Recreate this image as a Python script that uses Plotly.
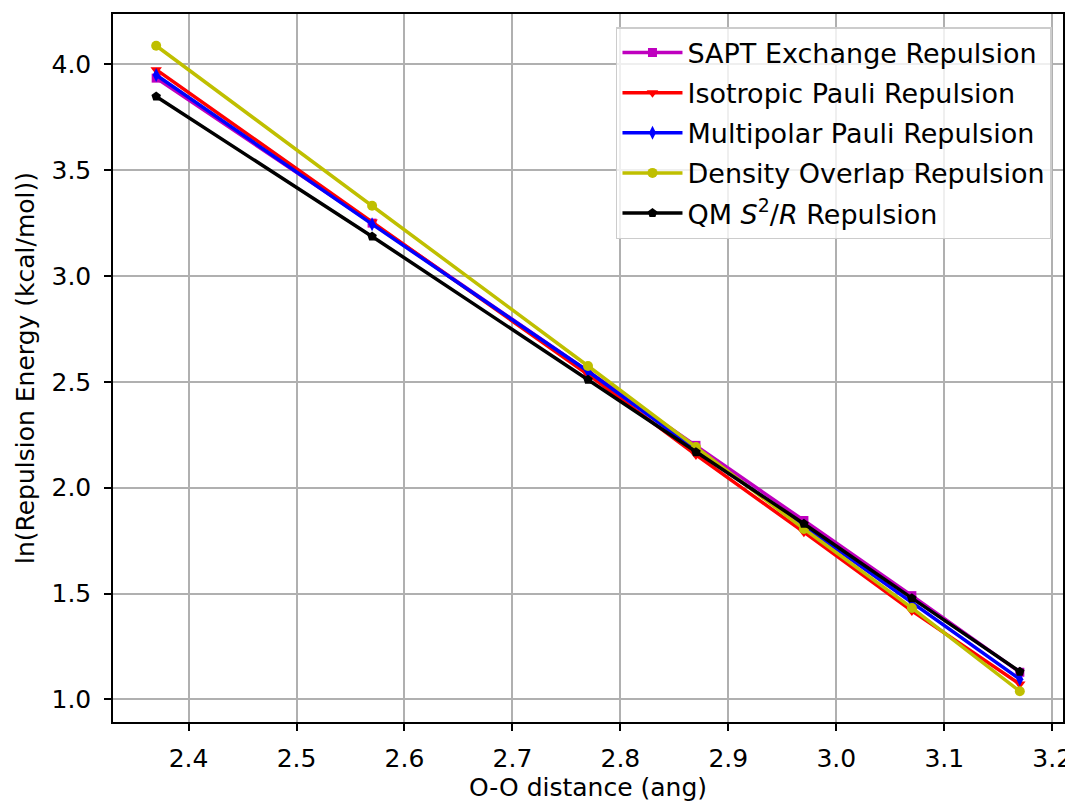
import plotly.graph_objects as go

distance = [2.37, 2.57, 2.77, 2.87, 2.97, 3.07, 3.17]
sapt_exchange = [3.935, 3.250, 2.550, 2.200, 1.845, 1.490, 1.128]
isotropic_pauli = [3.975, 3.255, 2.535, 2.155, 1.790, 1.418, 1.072]
multipolar_pauli = [3.950, 3.245, 2.550, 2.180, 1.820, 1.460, 1.095]
density_overlap = [4.088, 3.332, 2.575, 2.192, 1.805, 1.432, 1.038]
qm_s2r = [3.848, 3.187, 2.510, 2.168, 1.830, 1.478, 1.131]

series = [
    ("SAPT Exchange Repulsion", sapt_exchange, "#bf00bf", "square", 9),
    ("Isotropic Pauli Repulsion", isotropic_pauli, "#ff0000", "triangle-down", 10),
    ("Multipolar Pauli Repulsion", multipolar_pauli, "#0000ff", "diamond-tall", 10),
    ("Density Overlap Repulsion", density_overlap, "#bfbf00", "circle", 10),
    ("QM <i>S</i><sup>2</sup>/<i>R</i> Repulsion", qm_s2r, "#000000", "pentagon", 10),
]

x_ticks = [2.4, 2.5, 2.6, 2.7, 2.8, 2.9, 3.0, 3.1, 3.2]
y_ticks = [1.0, 1.5, 2.0, 2.5, 3.0, 3.5, 4.0]

fig = go.Figure()
for i, (name, vals, color, sym, size) in enumerate(series):
    fig.add_trace(go.Scatter(
        x=distance, y=vals, name=name, mode="lines+markers",
        legendgroup=f"g{i}",
        line=dict(color=color, width=3.5),
        marker=dict(color=color, symbol=sym, size=size, line=dict(width=0)),
    ))

font = "DejaVu Sans, sans-serif"
fig.update_layout(
    width=1065, height=794,
    paper_bgcolor="white", plot_bgcolor="white",
    margin=dict(l=105, r=10, t=6, b=80, autoexpand=False),
    font=dict(family=font, size=25, color="black"),
    showlegend=True,
    legend=dict(
        x=0.9884, y=0.9816, xanchor="right", yanchor="top",
        bgcolor="rgba(255,255,255,0.8)", bordercolor="#cccccc", borderwidth=1.5,
        font=dict(family=font, size=27, color="black"),
        itemwidth=60, tracegroupgap=2,
    ),
    xaxis=dict(
        range=[2.33, 3.21], tickvals=x_ticks, ticktext=[f"{v:.1f}" for v in x_ticks],
        showgrid=True, gridcolor="#b0b0b0", gridwidth=1.5,
        showline=True, linecolor="black", linewidth=1.5, mirror=True,
        ticks="outside", ticklen=7, tickwidth=1.5, tickcolor="black",
        zeroline=False, automargin=False, ticklabelstandoff=6,
        ticklabeloverflow="allow",
        title=dict(text="O-O distance (ang)", font=dict(size=25), standoff=12),
        tickfont=dict(size=25),
    ),
    yaxis=dict(
        range=[0.893, 4.238], tickvals=y_ticks, ticktext=[f"{v:.1f}" for v in y_ticks],
        showgrid=True, gridcolor="#b0b0b0", gridwidth=1.5,
        showline=True, linecolor="black", linewidth=1.5, mirror=True,
        ticks="outside", ticklen=7, tickwidth=1.5, tickcolor="black",
        zeroline=False, automargin=False, ticklabelstandoff=8,
        ticklabeloverflow="allow",
        title=dict(text="ln(Repulsion Energy (kcal/mol))", font=dict(size=25), standoff=10),
        tickfont=dict(size=25),
    ),
)

fig.write_html("out.html")
